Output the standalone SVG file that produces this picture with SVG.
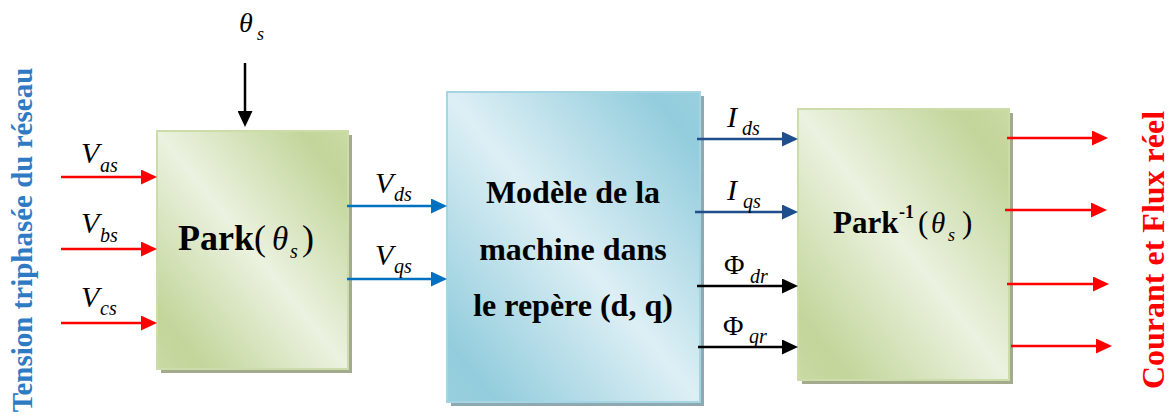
<svg xmlns="http://www.w3.org/2000/svg" width="1176" height="418" viewBox="0 0 1176 418">
<defs>
<style>
.t{font-family:"Liberation Serif","Times New Roman",serif;}
.it{font-family:"Liberation Serif","Times New Roman",serif;font-style:italic;}
.b{font-family:"Liberation Serif","Times New Roman",serif;font-weight:bold;}
.red{stroke:#ff0000;stroke-width:2.5;fill:none;}
.blue{stroke:#0070c0;stroke-width:2.5;fill:none;}
.dblue{stroke:#1f4e8c;stroke-width:2.5;fill:none;}
.blk{stroke:#000;stroke-width:2.5;fill:none;}
</style>
<linearGradient id="gGreen" x1="1" y1="0" x2="0" y2="1">
<stop offset="0" stop-color="#c9daa3"/>
<stop offset="0.12" stop-color="#c3d59a"/>
<stop offset="0.5" stop-color="#ebf2e0"/>
<stop offset="0.88" stop-color="#c3d59a"/>
<stop offset="1" stop-color="#c9daa3"/>
</linearGradient>
<linearGradient id="gBlue" x1="1" y1="0" x2="0" y2="1">
<stop offset="0" stop-color="#98cfde"/>
<stop offset="0.1" stop-color="#93cddd"/>
<stop offset="0.5" stop-color="#ddeff5"/>
<stop offset="0.9" stop-color="#93cddd"/>
<stop offset="1" stop-color="#98cfde"/>
</linearGradient>
<marker id="mRed" markerUnits="userSpaceOnUse" markerWidth="16" markerHeight="15" refX="8" refY="7.5" orient="auto"><path d="M0,0 L16,7.5 L0,15 z" fill="#ff0000"/></marker>
<marker id="mBlue" markerUnits="userSpaceOnUse" markerWidth="16" markerHeight="15" refX="8" refY="7.5" orient="auto"><path d="M0,0 L16,7.5 L0,15 z" fill="#0070c0"/></marker>
<marker id="mDBlue" markerUnits="userSpaceOnUse" markerWidth="16" markerHeight="15" refX="8" refY="7.5" orient="auto"><path d="M0,0 L16,7.5 L0,15 z" fill="#1f4e8c"/></marker>
<marker id="mBlk" markerUnits="userSpaceOnUse" markerWidth="16" markerHeight="15" refX="8" refY="7.5" orient="auto"><path d="M0,0 L16,7.5 L0,15 z" fill="#000"/></marker>
</defs>
<rect width="1176" height="418" fill="#fff"/>

<g id="park">
<rect x="161" y="135" width="191" height="238" fill="#a4ab8c"/>
<rect x="157" y="131" width="191" height="238" fill="url(#gGreen)" stroke="#cddcab" stroke-width="2"/>
<text class="b" x="178" y="250" font-size="36">Park<tspan class="t" font-weight="normal">(</tspan></text>
<text class="it" x="272" y="250" font-size="33">θ</text>
<text class="it" x="290" y="258" font-size="20">s</text>
<text class="t" x="302" y="250" font-size="36">)</text>
</g>

<g id="model">
<rect x="451" y="96" width="253" height="310" fill="#8fa9b3"/>
<rect x="447" y="92" width="253" height="310" fill="url(#gBlue)" stroke="#a5d5e2" stroke-width="2"/>
<text class="b" x="573" y="203" font-size="32" text-anchor="middle">Modèle de la</text>
<text class="b" x="573" y="260" font-size="32" text-anchor="middle">machine dans</text>
<text class="b" x="573" y="316" font-size="32" text-anchor="middle">le repère (d, q)</text>
</g>

<g id="parkinv">
<rect x="802" y="113" width="211" height="271" fill="#a4ab8c"/>
<rect x="798" y="109" width="211" height="271" fill="url(#gGreen)" stroke="#cddcab" stroke-width="2"/>
<text class="b" x="833" y="233" font-size="31">Park</text>
<text class="b" x="899" y="218" font-size="18">-1</text>
<text class="t" x="918" y="233" font-size="31">(</text>
<text class="it" x="931" y="233" font-size="29">θ</text>
<text class="it" x="948" y="241" font-size="18">s</text>
<text class="t" x="962" y="233" font-size="31">)</text>
</g>

<g id="connectors">
<line class="blk" x1="245" y1="63" x2="245" y2="119" marker-end="url(#mBlk)"/>
<line class="red" x1="61" y1="177" x2="149" y2="177" marker-end="url(#mRed)"/>
<line class="red" x1="61" y1="249" x2="149" y2="249" marker-end="url(#mRed)"/>
<line class="red" x1="61" y1="323" x2="149" y2="323" marker-end="url(#mRed)"/>
<line class="blue" x1="347" y1="206" x2="439" y2="206" marker-end="url(#mBlue)"/>
<line class="blue" x1="347" y1="279" x2="439" y2="279" marker-end="url(#mBlue)"/>
<line class="dblue" x1="697" y1="139" x2="790" y2="139" marker-end="url(#mDBlue)"/>
<line class="dblue" x1="695" y1="212" x2="790" y2="212" marker-end="url(#mDBlue)"/>
<line class="blk" x1="697" y1="286" x2="790" y2="286" marker-end="url(#mBlk)"/>
<line class="blk" x1="698" y1="347" x2="790" y2="347" marker-end="url(#mBlk)"/>
<line class="red" x1="1007" y1="138" x2="1100" y2="138" marker-end="url(#mRed)"/>
<line class="red" x1="1005" y1="210" x2="1099" y2="210" marker-end="url(#mRed)"/>
<line class="red" x1="1007" y1="284" x2="1101" y2="284" marker-end="url(#mRed)"/>
<line class="red" x1="1011" y1="346" x2="1104" y2="346" marker-end="url(#mRed)"/>
</g>

<g id="labels">
<text class="it" x="239" y="32" font-size="28">θ</text>
<text class="it" x="257" y="40" font-size="18">s</text>
<text class="it" x="81" y="163" font-size="30">V</text><text class="it" x="100" y="172" font-size="20">as</text>
<text class="it" x="81" y="233" font-size="30">V</text><text class="it" x="100" y="242" font-size="20">bs</text>
<text class="it" x="81" y="307" font-size="30">V</text><text class="it" x="100" y="315" font-size="20">cs</text>
<text class="it" x="375" y="193" font-size="30">V</text><text class="it" x="394" y="201" font-size="20">ds</text>
<text class="it" x="375" y="265" font-size="30">V</text><text class="it" x="394" y="273" font-size="20">qs</text>
<text class="it" x="727" y="127" font-size="30">I</text><text class="it" x="742" y="135" font-size="20">ds</text>
<text class="it" x="727" y="200" font-size="30">I</text><text class="it" x="743" y="208" font-size="20">qs</text>
<text class="t" x="724" y="274" font-size="28">Φ</text><text class="it" x="750" y="283" font-size="20">dr</text>
<text class="t" x="723" y="335" font-size="28">Φ</text><text class="it" x="749" y="343" font-size="20">qr</text>
<text class="b" transform="translate(32,240) rotate(-90)" font-size="29" fill="#2f7bc3" text-anchor="middle">Tension triphasée du réseau</text>
<text class="b" transform="translate(1164,250) rotate(-90)" font-size="32" fill="#ff0000" text-anchor="middle">Courant et Flux réel</text>
</g>
</svg>
